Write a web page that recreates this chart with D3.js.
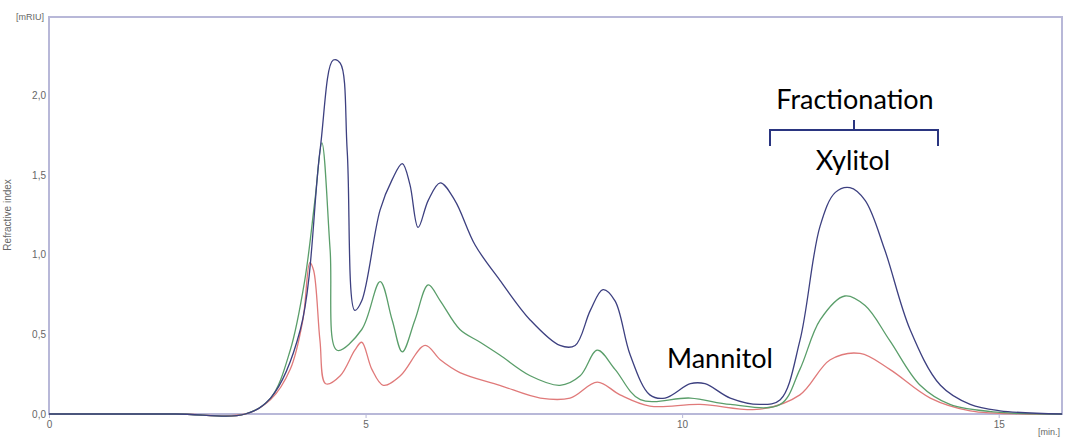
<!DOCTYPE html><html><head><script src="https://cdn.jsdelivr.net/npm/d3@7"></script>
<style>body{margin:0;background:#fff}</style></head><body><svg id="c" width="1065" height="447"></svg>
<script>
const xTicks=[0,5,10,15];
const yTicks=[0,0.5,1.0,1.5,2.0];
const blueT=[0,2,3.1,3.5,3.97,4.28,4.49,4.6,4.71,4.83,4.94,5.23,5.42,5.58,5.7,5.83,5.99,6.18,6.41,6.73,7.12,7.6,8.07,8.31,8.55,8.75,8.94,9.18,9.49,9.73,10.13,10.36,10.76,11.23,11.55,11.86,12.18,12.42,12.65,12.89,13.2,13.6,14.08,14.55,15.02,16];
const blueV=[0,0,0,0.1,0.53,1.65,2.22,2.2,1.65,0.65,0.71,1.28,1.47,1.57,1.44,1.17,1.34,1.45,1.34,1.06,0.84,0.59,0.43,0.43,0.65,0.78,0.71,0.37,0.12,0.1,0.19,0.19,0.1,0.06,0.09,0.46,1.18,1.39,1.42,1.34,1.03,0.53,0.18,0.06,0.02,0];
const greenT=[0,2,3.1,3.5,3.81,4.04,4.2,4.31,4.44,4.55,4.94,5.23,5.42,5.58,5.78,5.99,6.18,6.49,6.81,7.12,7.6,8.07,8.39,8.66,8.94,9.34,10.13,10.76,11.55,11.86,12.18,12.57,12.89,13.28,13.76,14.23,15.02,16];
const greenV=[0,0,0,0.1,0.4,0.84,1.34,1.7,1.03,0.4,0.53,0.83,0.59,0.39,0.59,0.81,0.71,0.53,0.45,0.37,0.24,0.18,0.24,0.4,0.28,0.09,0.1,0.06,0.06,0.28,0.59,0.74,0.68,0.46,0.18,0.06,0.01,0];
const redT=[0,2,3.1,3.5,3.81,4.01,4.12,4.18,4.28,4.37,4.6,4.83,4.94,5.1,5.28,5.55,5.94,6.18,6.49,7.12,7.76,8.23,8.66,9.02,9.49,10.28,11.23,11.86,12.34,12.81,13.28,13.92,14.55,15.5,16];
const redV=[0,0,0,0.09,0.28,0.59,0.95,0.9,0.46,0.19,0.24,0.4,0.45,0.28,0.18,0.24,0.43,0.34,0.26,0.18,0.1,0.1,0.2,0.12,0.05,0.06,0.03,0.12,0.34,0.38,0.28,0.1,0.02,0,0];
const svg=d3.select('#c');
const x=d3.scaleLinear().domain([0,16]).range([49,1062]);
const y=d3.scaleLinear().domain([0,2.49]).range([414,17]);
svg.append('rect').attr('x',49).attr('y',17).attr('width',1013).attr('height',397).attr('fill','none').attr('stroke','#b8b8d8').attr('stroke-width',2);
const ax=svg.append('g').attr('transform','translate(0,414)').call(d3.axisBottom(x).tickValues(xTicks).tickSize(4).tickFormat(d=>d));
const ay=svg.append('g').attr('transform','translate(49,0)').call(d3.axisLeft(y).tickValues(yTicks).tickSize(0).tickPadding(3).tickFormat(d=>d3.format('.1f')(d).replace('.',',')));
[ax,ay].forEach(a=>{a.select('.domain').remove();a.selectAll('line').attr('stroke','#b8b8d8');a.selectAll('text').attr('fill','#666').attr('font-family','Liberation Sans,Arial').attr('font-size',10);});
svg.append('text').attr('x',44).attr('y',20).attr('text-anchor','end').attr('font-size',9).attr('fill','#666').attr('font-family','Liberation Sans').text('[mRIU]');
svg.append('text').attr('x',1060).attr('y',435).attr('text-anchor','end').attr('font-size',9).attr('fill','#666').attr('font-family','Liberation Sans').text('[min.]');
svg.append('text').attr('transform','translate(11,215) rotate(-90)').attr('text-anchor','middle').attr('font-size',10).attr('fill','#666').attr('font-family','Liberation Sans').text('Refractive index');
const line=d3.line().x(d=>x(d[0])).y(d=>y(d[1])).curve(d3.curveCatmullRom.alpha(0.5));
[[redT,redV,'#e07a7a'],[greenT,greenV,'#5a9e6a'],[blueT,blueV,'#3d4080']].forEach(([t,v,c])=>{
svg.append('path').attr('d',line(t.map((d,i)=>[d,v[i]]))).attr('fill','none').attr('stroke',c).attr('stroke-width',1.3);});
const f='Lato,Noto Sans,sans-serif';
svg.append('text').attr('x',855).attr('y',109).attr('text-anchor','middle').attr('font-size',27).attr('font-family',f).text('Fractionation');
svg.append('path').attr('d','M770,146V130H938V146M854,130V120').attr('fill','none').attr('stroke','#2a3580').attr('stroke-width',2);
svg.append('text').attr('x',853).attr('y',170).attr('text-anchor','middle').attr('font-size',27).attr('font-family',f).text('Xylitol');
svg.append('text').attr('x',720).attr('y',368).attr('text-anchor','middle').attr('font-size',27).attr('font-family',f).text('Mannitol');
</script></body></html>
